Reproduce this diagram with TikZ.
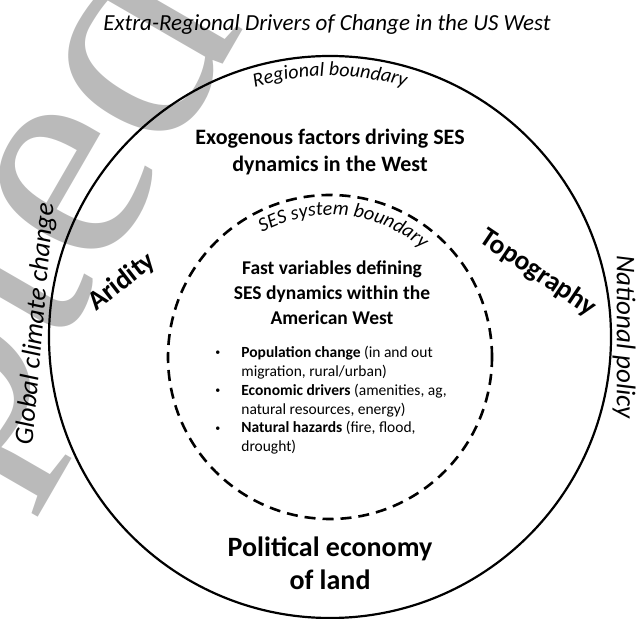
\documentclass[tikz,border=0pt]{standalone}
\usepackage{fontspec}
\setmainfont{Carlito}
\newfontfamily\markfont{Liberation Serif}
\usetikzlibrary{positioning,decorations.text}

\newcommand\itm{\makebox[30pt][l]{\hspace*{4pt}\raisebox{0.25ex}{\fontsize{10}{10}\selectfont\textbullet}}}
\newcommand\gap{\hspace*{30pt}}

\begin{document}
\begin{tikzpicture}[x=1pt,y=1pt,
  every node/.style={inner sep=0pt,align=center},
  ring/.style={circle,draw,line width=2.2pt,inner sep=0pt},
  sesring/.style={ring,line width=2.6pt,dash pattern=on 11pt off 7pt},
  heading/.style={font=\bfseries\fontsize{22}{27}\selectfont},
  factor/.style={font=\bfseries\fontsize{27.5}{27.5}\selectfont},
  outside/.style={font=\itshape\fontsize{27}{27}\selectfont},
  boundary/.style={decorate,decoration={text along path,text align=center,text={#1}}}]
\useasboundingbox (0,0) rectangle (639,618);

% watermark
\begin{scope}
  \clip (0,0) rectangle (639,618);
  \node[rotate=60,anchor=base west,text=black!27,font=\markfont\fontsize{310}{310}\selectfont] (mark) at (-340,-422) {Accepted};
\end{scope}

\node[font=\itshape\fontsize{23}{23}\selectfont] (title) at (327,594) {Extra-Regional Drivers of Change in the US West};

% the two boundaries
\node[ring,minimum size=562pt] (region) at (330,281) {};
\node[sesring,minimum size=324pt] (ses) at (330,261) {};
\path[boundary={|\itshape\fontsize{20}{20}\selectfont|Regional boundary}]
  ([shift={(120:261)}]region.center) arc[start angle=120,end angle=60,radius=261];
\path[boundary={|\itshape\fontsize{20}{20}\selectfont|SES system boundary}]
  ([shift={(130:142)}]ses.center) arc[start angle=130,end angle=38,radius=142];

\node[heading] (exo) at (330,466) {Exogenous factors driving SES\\dynamics in the West};
\node[factor,rotate=38] (aridity) at (122,336) {Aridity};
\node[factor,rotate=-34] (topo) at (538,345) {Topography};
\node[outside,rotate=85] (climate) at (36,294) {Global climate change};
\node[outside,rotate=-90] (policy) at (624,281) {National policy};

\node[font=\bfseries\fontsize{19.5}{25}\selectfont] (fast) at (332,325) {Fast variables defining\\SES dynamics within the\\American West};
\node[font=\fontsize{15.5}{18.8}\selectfont,align=left,xshift=-3pt] (drivers) [below=21pt of fast] {%
  \itm\textbf{Population change} (in and out\\
  \gap migration, rural/urban)\\
  \itm\textbf{Economic drivers} (amenities, ag,\\
  \gap natural resources, energy)\\
  \itm\textbf{Natural hazards} (fire, flood,\\
  \gap drought)};

\node[font=\bfseries\fontsize{28}{33}\selectfont] (land) at (330,55) {Political economy\\of land};
\end{tikzpicture}
\end{document}
